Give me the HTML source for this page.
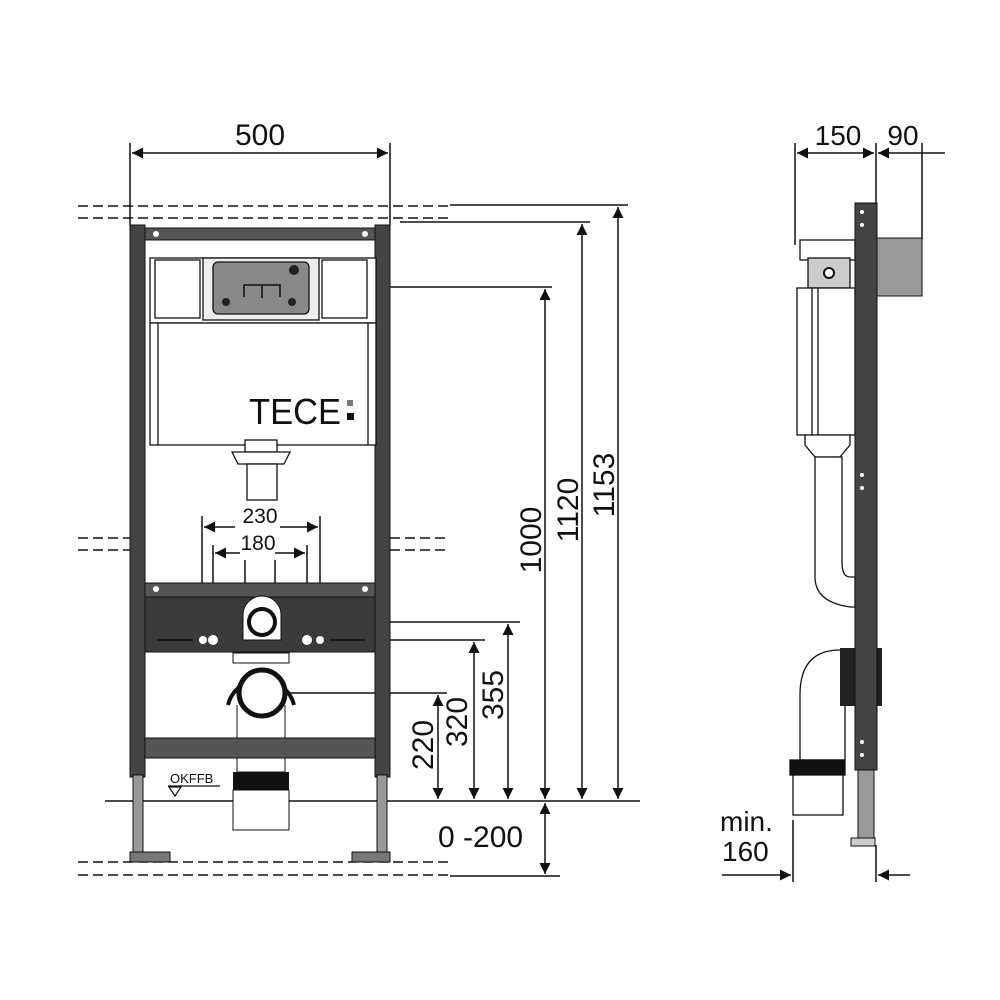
<!DOCTYPE html>
<html><head><meta charset="utf-8"><style>
html,body{margin:0;padding:0;background:#fff}
svg{display:block}
text{font-family:"Liberation Sans",sans-serif;fill:#111}
</style></head><body>
<svg width="1000" height="1000" viewBox="0 0 1000 1000" xmlns="http://www.w3.org/2000/svg">
<defs>
<marker id="a" viewBox="0 0 10 10" refX="10" refY="5" markerWidth="16" markerHeight="11" orient="auto-start-reverse" markerUnits="userSpaceOnUse"><path d="M0,0L10,5L0,10z" fill="#111"/></marker>
</defs>
<rect width="1000" height="1000" fill="#fff"/>
<g stroke="#111" stroke-width="1.5" fill="none">
<line x1="130" y1="143" x2="130" y2="225"/>
<line x1="390" y1="143" x2="390" y2="225"/>
<line x1="132" y1="153" x2="388" y2="153" marker-start="url(#a)" marker-end="url(#a)"/>
<g stroke-dasharray="10,5" stroke-width="1.4">
<line x1="78" y1="206" x2="450" y2="206"/><line x1="78" y1="218" x2="450" y2="218"/>
<line x1="78" y1="538" x2="130" y2="538"/><line x1="78" y1="550" x2="130" y2="550"/>
<line x1="390" y1="538" x2="450" y2="538"/><line x1="390" y1="550" x2="450" y2="550"/>
<line x1="78" y1="862" x2="450" y2="862"/><line x1="78" y1="875" x2="450" y2="875"/>
</g>
<line x1="450" y1="205" x2="628" y2="205"/>
<line x1="400" y1="222" x2="590" y2="222"/>
<line x1="390" y1="287" x2="552" y2="287"/>
<line x1="375" y1="622" x2="520" y2="622"/>
<line x1="320" y1="640" x2="485" y2="640"/>
<line x1="270" y1="693" x2="447" y2="693"/>
<line x1="105" y1="801" x2="640" y2="801"/>
<line x1="450" y1="876" x2="560" y2="876"/>
<line x1="438" y1="695" x2="438" y2="799" marker-start="url(#a)" marker-end="url(#a)"/>
<line x1="474" y1="642" x2="474" y2="799" marker-start="url(#a)" marker-end="url(#a)"/>
<line x1="508" y1="624" x2="508" y2="799" marker-start="url(#a)" marker-end="url(#a)"/>
<line x1="545" y1="289" x2="545" y2="799" marker-start="url(#a)" marker-end="url(#a)"/>
<line x1="582" y1="224" x2="582" y2="799" marker-start="url(#a)" marker-end="url(#a)"/>
<line x1="618" y1="207" x2="618" y2="799" marker-start="url(#a)" marker-end="url(#a)"/>
<line x1="545" y1="803" x2="545" y2="874" marker-start="url(#a)" marker-end="url(#a)"/>
<line x1="202" y1="516" x2="202" y2="640"/><line x1="320" y1="516" x2="320" y2="640"/>
<line x1="213" y1="545" x2="213" y2="640"/><line x1="307" y1="545" x2="307" y2="640"/>
<line x1="204" y1="527" x2="235" y2="527" marker-start="url(#a)"/><line x1="280" y1="527" x2="318" y2="527" marker-end="url(#a)"/>
<line x1="215" y1="553" x2="240" y2="553" marker-start="url(#a)"/><line x1="275" y1="553" x2="305" y2="553" marker-end="url(#a)"/>
<line x1="245" y1="560" x2="245" y2="583"/><line x1="275" y1="560" x2="275" y2="583"/>
</g>
<rect x="130" y="225" width="15" height="552" fill="#444" stroke="#111"/>
<rect x="375" y="225" width="15" height="552" fill="#444" stroke="#111"/>
<rect x="133" y="775" width="10" height="80" fill="#999" stroke="#111"/>
<rect x="377" y="775" width="10" height="80" fill="#999" stroke="#111"/>
<rect x="130" y="852" width="40" height="10" fill="#777" stroke="#111"/>
<rect x="352" y="852" width="38" height="10" fill="#777" stroke="#111"/>
<rect x="145" y="228" width="230" height="12" fill="#555" stroke="#111"/>
<circle cx="156" cy="234" r="3" fill="#fff"/><circle cx="365" cy="234" r="3" fill="#fff"/>
<g stroke="#111" stroke-width="1.3" fill="#fff">
<rect x="150" y="258" width="226" height="65"/>
<rect x="155" y="260" width="45" height="58"/>
<rect x="322" y="260" width="45" height="58"/>
<rect x="203" y="258" width="116" height="62" fill="#eee"/>
<rect x="213" y="262" width="96" height="52" rx="5" fill="#888"/>
<rect x="150" y="323" width="226" height="122"/>
<line x1="158" y1="323" x2="158" y2="445"/><line x1="368" y1="323" x2="368" y2="445"/>
<rect x="245" y="440" width="32" height="12"/>
<path d="M232,452h58l-6,12h-46z"/>
<rect x="247" y="464" width="30" height="36"/>
</g>
<circle cx="226" cy="302" r="4" fill="#222"/><circle cx="292" cy="302" r="4" fill="#222"/><circle cx="294" cy="270" r="5" fill="#222"/>
<path d="M244,297v-12h36v12M262,286v12" stroke="#111" fill="none" stroke-width="1.5"/>
<text x="249" y="424" font-size="36" textLength="92" lengthAdjust="spacingAndGlyphs">TECE</text>
<rect x="347" y="400" width="6" height="6" fill="#777"/><rect x="347" y="413" width="7" height="7" fill="#111"/>
<rect x="145" y="583" width="230" height="14" fill="#555" stroke="#111"/>
<circle cx="156" cy="589" r="3" fill="#fff"/><circle cx="365" cy="589" r="3" fill="#fff"/>
<rect x="145" y="597" width="230" height="55" fill="#3a3a3a" stroke="#111"/>
<path d="M243,640v-25a19,19 0 0 1 38,0v25z" fill="#fff" stroke="#111"/>
<circle cx="262" cy="622" r="13" fill="#fff" stroke="#111" stroke-width="4"/>
<g fill="#fff"><circle cx="203" cy="640" r="4"/><circle cx="213" cy="640" r="5"/><circle cx="307" cy="640" r="5"/><circle cx="320" cy="640" r="4"/></g>
<line x1="157" y1="640" x2="193" y2="640" stroke="#111" stroke-width="1.5"/><line x1="330" y1="640" x2="365" y2="640" stroke="#111" stroke-width="1.5"/>
<rect x="233" y="653" width="56" height="10" fill="#fff" stroke="#111"/>
<rect x="237" y="700" width="48" height="40" fill="#fff" stroke="#111"/>
<path d="M228,705a34,34 0 0 1 66,0" fill="#fff" stroke="#111" stroke-width="4"/>
<circle cx="262" cy="693" r="23" fill="#fff" stroke="#111" stroke-width="5"/>
<rect x="145" y="738" width="230" height="20" fill="#555" stroke="#111"/>
<rect x="237" y="758" width="48" height="14" fill="#fff" stroke="#111"/>
<rect x="233" y="772" width="56" height="18" fill="#111"/>
<rect x="233" y="790" width="56" height="40" fill="#fff" stroke="#111"/>
<text x="170" y="783" font-size="13">OKFFB</text>
<line x1="168" y1="786" x2="220" y2="786" stroke="#111" stroke-width="1.2"/>
<path d="M169,787h12l-6,9z" fill="none" stroke="#111" stroke-width="1.2"/>
<text x="260" y="145" font-size="30" text-anchor="middle">500</text>
<text x="260" y="523" font-size="21" text-anchor="middle">230</text>
<text x="258" y="550" font-size="21" text-anchor="middle">180</text>
<g font-size="30" text-anchor="middle">
<text transform="translate(433,745) rotate(-90)">220</text>
<text transform="translate(467,722) rotate(-90)">320</text>
<text transform="translate(503,695) rotate(-90)">355</text>
<text transform="translate(541,540) rotate(-90)">1000</text>
<text transform="translate(578,510) rotate(-90)">1120</text>
<text transform="translate(614,485) rotate(-90)">1153</text>
</g>
<text x="438" y="847" font-size="30">0 -200</text>
<g stroke="#111" stroke-width="1.5" fill="none">
<line x1="795" y1="143" x2="795" y2="245"/>
<line x1="876" y1="143" x2="876" y2="205"/>
<line x1="922" y1="143" x2="922" y2="240"/>
<line x1="797" y1="153" x2="874" y2="153" marker-start="url(#a)" marker-end="url(#a)"/>
<line x1="878" y1="153" x2="945" y2="153" marker-start="url(#a)"/>
<line x1="793" y1="820" x2="793" y2="882"/>
<line x1="876" y1="845" x2="876" y2="882"/>
<line x1="722" y1="875" x2="791" y2="875" marker-end="url(#a)"/>
<line x1="878" y1="875" x2="910" y2="875" marker-start="url(#a)"/>
</g>
<text x="838" y="145" font-size="28" text-anchor="middle">150</text>
<text x="903" y="145" font-size="28" text-anchor="middle">90</text>
<text x="720" y="831" font-size="28">min.</text>
<text x="722" y="861" font-size="28">160</text>
<rect x="877" y="238" width="45" height="58" fill="#999" stroke="#111"/>
<g stroke="#111" stroke-width="1.3" fill="#fff">
<rect x="800" y="240" width="55" height="20"/>
<rect x="808" y="258" width="42" height="30" fill="#ccc"/>
<rect x="797" y="288" width="58" height="147"/>
<line x1="812" y1="288" x2="812" y2="435"/><line x1="818" y1="288" x2="818" y2="435"/>
<path d="M805,435h45v10l-10,12h-25l-10,-12z"/>
<path d="M815,457v120q0,25 35,30h5v-30h-5q-8,0 -8,-15v-105z"/>
<path d="M855,650h-15q-40,0 -40,45v65h45v-110z"/>
<rect x="790" y="760" width="55" height="15" fill="#111"/>
<rect x="793" y="775" width="50" height="40"/>
</g>
<circle cx="829" cy="273" r="5" fill="#fff" stroke="#111" stroke-width="2"/>
<rect x="840" y="648" width="42" height="58" fill="#222"/>
<rect x="855" y="203" width="22" height="567" fill="#444" stroke="#111"/>
<rect x="858" y="770" width="16" height="72" fill="#999" stroke="#111"/>
<rect x="851" y="838" width="24" height="8" fill="#ccc" stroke="#111"/>
<g fill="#fff"><circle cx="862" cy="212" r="2"/><circle cx="862" cy="225" r="2"/><circle cx="862" cy="475" r="2"/><circle cx="862" cy="488" r="2"/><circle cx="862" cy="742" r="2"/><circle cx="862" cy="755" r="2"/></g>
</svg>
</body></html>
